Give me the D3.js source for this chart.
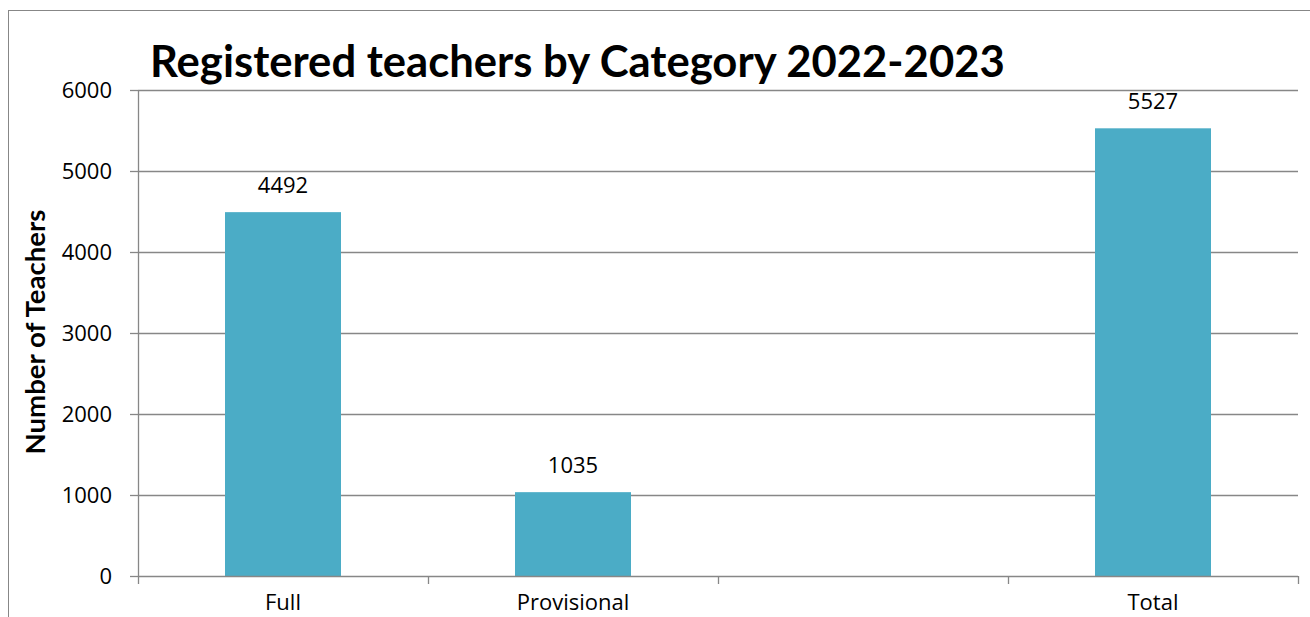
<!DOCTYPE html>
<html lang="en">
<head>
<meta charset="UTF-8">
<script src="https://d3js.org/d3.v7.min.js"></script>
<title>Registered teachers</title>
<style>
  body { margin: 0; background: #fff; }
  svg { display: block; font-family: "Open Sans", Lato, sans-serif; }
</style>
</head>
<body>
<div id="container"></div>
<script>
// chart data
var categories = ["Full", "Provisional", "", "Total"];
var teachers = [4492, 1035, null, 5527];
var yTicks = [0, 1000, 2000, 3000, 4000, 5000, 6000];

var width = 1310, height = 617;
var margin = {top: 90, left: 138, right: 12, bottom: 41};
var plotW = width - margin.left - margin.right,
    plotH = height - margin.top - margin.bottom;
var labelSize = 22;

var svg = d3.select("#container").append("svg")
    .attr("width", width).attr("height", height);

// outer chart border (runs off right and bottom edges)
svg.append("rect")
    .attr("x", 8.5).attr("y", 10.5)
    .attr("width", width + 20).attr("height", height + 20)
    .attr("fill", "none").attr("stroke", "#878787").attr("stroke-width", 1);

var x = d3.scaleBand().domain(d3.range(categories.length)).range([0, plotW]);
var y = d3.scaleLinear().domain([0, 6000]).range([plotH, 0]);

var chart = svg.append("g")
    .attr("transform", `translate(${margin.left},${margin.top})`);

// gridlines
chart.append("g").selectAll("line")
    .data(yTicks.slice(1))
    .enter().append("line")
    .attr("x1", 0).attr("x2", plotW)
    .attr("y1", d => Math.round(y(d)) + 0.5).attr("y2", d => Math.round(y(d)) + 0.5)
    .attr("stroke", "#878787").attr("stroke-width", 1.3);

// bars
var barW = x.bandwidth() * 0.4;
var barData = teachers.map((v, i) => ({i: i, v: v})).filter(d => d.v != null);
chart.selectAll(".bar")
    .data(barData)
    .enter().append("rect")
    .attr("class", "bar")
    .attr("x", d => x(d.i) + (x.bandwidth() - barW) / 2)
    .attr("y", d => y(d.v))
    .attr("width", barW)
    .attr("height", d => plotH - y(d.v))
    .attr("fill", "#4BACC6");

// value labels
chart.selectAll(".lbl")
    .data(barData)
    .enter().append("text")
    .attr("x", d => x(d.i) + x.bandwidth() / 2)
    .attr("y", d => y(d.v) - 19)
    .attr("text-anchor", "middle")
    .attr("font-size", labelSize)
    .attr("fill", "#000")
    .text(d => d.v);

// y axis
var yAxis = chart.append("g")
    .call(d3.axisLeft(y).tickValues(yTicks).tickSize(8).tickPadding(18).tickFormat(d3.format("d")));
yAxis.selectAll("line, path").attr("stroke", "#878787").attr("stroke-width", 1.3);
yAxis.select("path").attr("d", `M0.5,0V${plotH}`);
yAxis.selectAll("text").attr("font-size", labelSize).attr("fill", "#000")
    .attr("font-family", "'Open Sans', Lato, sans-serif");

// x axis
var xTickPos = d3.range(categories.length + 1).map(i => i * x.step());
var xAxis = chart.append("g").attr("transform", `translate(0,${plotH})`);
xAxis.append("line").attr("x1", 0).attr("x2", plotW).attr("y1", 0.5).attr("y2", 0.5)
    .attr("stroke", "#878787").attr("stroke-width", 1.3);
xAxis.selectAll(".tk").data(xTickPos).enter().append("line")
    .attr("x1", d => d + 0.5).attr("x2", d => d + 0.5)
    .attr("y1", 0).attr("y2", 8)
    .attr("stroke", "#878787").attr("stroke-width", 1.3);
xAxis.selectAll(".xl").data(categories).enter().append("text")
    .attr("x", (d, i) => x(i) + x.bandwidth() / 2)
    .attr("y", 34)
    .attr("text-anchor", "middle")
    .attr("font-size", labelSize)
    .attr("fill", "#000")
    .text(d => d);

// title
var title = svg.append("text")
    .attr("x", 150).attr("y", 77)
    .attr("font-family", "Lato, 'Open Sans', sans-serif")
    .attr("font-size", 38).attr("font-weight", "bold")
    .attr("fill", "#000")
    .text("Registered teachers by Category 2022-2023");
var tw = title.node().getComputedTextLength();
title.attr("font-size", 38 * 855 / tw);

// y axis title
var yt = svg.append("text")
    .attr("transform", "translate(45,332) rotate(-90)")
    .attr("text-anchor", "middle")
    .attr("font-family", "Lato, 'Open Sans', sans-serif")
    .attr("font-size", 20).attr("font-weight", "bold")
    .attr("fill", "#000")
    .text("Number of Teachers");
var yw = yt.node().getComputedTextLength();
yt.attr("font-size", 20 * 245 / yw);
</script>
</body>
</html>
